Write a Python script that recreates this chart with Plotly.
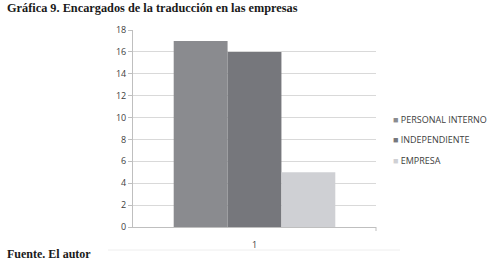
import plotly.graph_objects as go

categories = ["1"]
series_names = ["PERSONAL INTERNO", "INDEPENDIENTE", "EMPRESA"]
series_values = [[17], [16], [5]]
series_colors = ["#8a8b8f", "#76777c", "#cfd0d4"]
y_ticks = list(range(0, 19, 2))

W, H = 504, 265
L, T, PW, PH = 133, 30, 243, 197

fig = go.Figure()
for name, vals, col in zip(series_names, series_values, series_colors):
    fig.add_trace(go.Bar(x=categories, y=vals, name=name, showlegend=False,
                         marker=dict(color=col, line=dict(width=0))))

fig.update_layout(
    width=W, height=H,
    margin=dict(l=L, r=W - L - PW, t=T, b=H - T - PH, autoexpand=False),
    paper_bgcolor="white", plot_bgcolor="white",
    barmode="group", bargap=0.335, bargroupgap=0,
    font=dict(family="Open Sans", size=9, color="#404040"),
    xaxis=dict(type="category", showgrid=False, showline=True, linecolor="#bfbfbf", linewidth=1,
               ticks="", ticklabelstandoff=9,
               tickfont=dict(family="Open Sans", size=9, color="#404040")),
    yaxis=dict(range=[0, 18], tickvals=y_ticks, showgrid=True, gridcolor="#d9d9d9", gridwidth=1,
               showline=True, linecolor="#bfbfbf", linewidth=1, ticks="outside", ticklen=4,
               tickcolor="#bfbfbf", zeroline=False,
               tickfont=dict(family="Open Sans", size=9, color="#404040")),
)

# legend (compact, as in the reference)
for i, (name, col) in enumerate(zip(series_names, series_colors)):
    fig.add_annotation(text=f'<span style="color:{col}">■</span> {name}',
                       xref="paper", yref="paper", x=(391 - L) / PW, y=1 - (89 + 20.5 * i) / PH,
                       xanchor="left", yanchor="middle", showarrow=False,
                       font=dict(family="Open Sans", size=9, color="#404040"))

fig.add_annotation(text="<b>Gráfica 9. Encargados de la traducción en las empresas</b>",
                   xref="paper", yref="paper", x=-128 / PW, y=1 + 22 / PH, xanchor="left", yanchor="middle",
                   showarrow=False, font=dict(family="Liberation Serif", size=12.3, color="#1a1a1a"))
fig.add_annotation(text="<b>Fuente. El autor</b>",
                   xref="paper", yref="paper", x=-128 / PW, y=-27 / PH, xanchor="left", yanchor="middle",
                   showarrow=False, font=dict(family="Liberation Serif", size=12, color="#1a1a1a"))
fig.add_shape(type="line", xref="paper", yref="paper", x0=-25 / PW, x1=267 / PW, y0=-23 / PH, y1=-23 / PH,
              line=dict(color="#eeeeee", width=1))
fig.add_shape(type="line", xref="paper", yref="paper", x0=1, x1=1, y0=0, y1=-4 / PH,
              line=dict(color="#bfbfbf", width=1))

fig.write_html("out.html", config={"displayModeBar": False},
               post_script="document.body.style.margin='0';")
